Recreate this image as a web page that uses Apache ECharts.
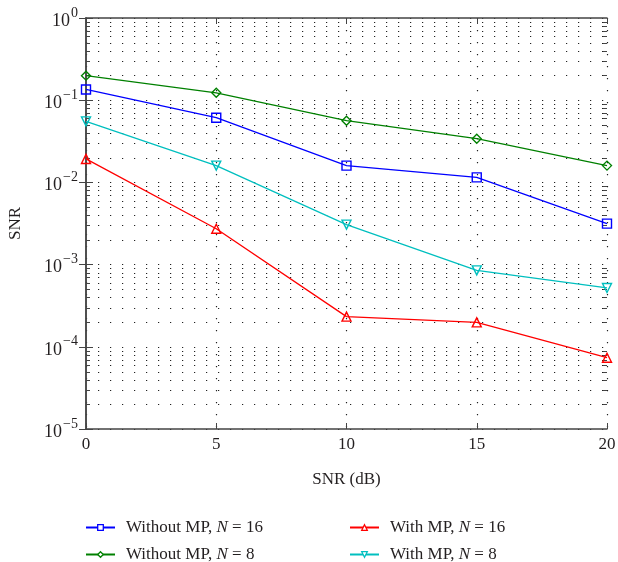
<!DOCTYPE html>
<html><head><meta charset="utf-8">
<script src="https://cdn.jsdelivr.net/npm/echarts@6/dist/echarts.min.js"></script>
<style>html,body{margin:0;padding:0;background:#fff}#c{width:618px;height:562px}</style>
</head><body><div id="c"></div>
<script>
const snr = [0, 5, 10, 15, 20];
const withoutMP16 = [0.135, 0.0612, 0.0160, 0.0115, 0.00315];
const withoutMP8 = [0.199, 0.123, 0.0564, 0.0340, 0.0160];
const withMP16 = [0.0193, 0.00273, 0.000233, 0.000198, 0.0000737];
const withMP8 = [0.0552, 0.0160, 0.00306, 0.00085, 0.00052];
const xTicks = [0, 5, 10, 15, 20];
const yDecades = [1e-5, 1e-4, 1e-3, 1e-2, 1e-1, 1];
const minorMult = [2, 3, 4, 5, 6, 7, 8, 9];
const names = ['Without MP, N = 16', 'Without MP, N = 8', 'With MP, N = 16', 'With MP, N = 8'];

const minorVals = [];
yDecades.slice(0, -1).forEach(d => minorMult.forEach(m => minorVals.push(d * m)));

const FONT = 'Liberation Serif';
const TXT = '#231f20';
const AX = '#444';
const dotted = {type: [1.2, 10.8], color: '#222', width: 1.2};

function pair(a){ return a.map((v,i)=>[snr[i], v]); }
function ser(name, data, color, symbol, rot){
  return {name, type:'line', data: pair(data), symbol, symbolSize: 9, symbolRotate: rot||0,
    showSymbol:true, lineStyle:{color, width:1.3},
    itemStyle:{color:'rgba(255,255,255,0)', borderColor:color, borderWidth:1.4},
    emphasis:{disabled:true}, z:5};
}
const series = [
  ser(names[0], withoutMP16, '#0000ff', 'rect'),
  ser(names[1], withoutMP8, '#008000', 'diamond'),
  ser(names[2], withMP16, '#ff0000', 'triangle'),
  ser(names[3], withMP8, '#00bfbf', 'triangle', 180)
];
const colors = ['#0000ff', '#008000', '#ff0000', '#00bfbf'];

series.push({
  type:'custom', silent:true, z:1,
  data: minorVals.map(v => [0, v]),
  encode:{x:0, y:1},
  renderItem(params, api){
    const cs = params.coordSys;
    const y = Math.round(api.coord([0, api.value(1)])[1]) + 0.5;
    return {type:'group', children:[
      {type:'line', shape:{x1:cs.x, y1:y, x2:cs.x+cs.width, y2:y}, style:{stroke:'#222', lineWidth:1.2, lineDash:[1.2,10.8]}},
      {type:'line', shape:{x1:cs.x, y1:y, x2:cs.x+4, y2:y}, style:{stroke:AX, lineWidth:1}},
      {type:'line', shape:{x1:cs.x+cs.width-4, y1:y, x2:cs.x+cs.width, y2:y}, style:{stroke:AX, lineWidth:1}}
    ]};
  }
});

function legendFmt(name){
  const m = name.match(/^(.*), N = (\d+)$/);
  return '{a0|' + m[1] + ', }{i|N}{a| = ' + m[2] + '}';
}
const legRich = {
  a0:{fontFamily:FONT, fontSize:17, color:TXT, padding:[0,0,0,6]},
  a:{fontFamily:FONT, fontSize:17, color:TXT},
  i:{fontFamily:FONT, fontSize:17, fontStyle:'italic', color:TXT}
};
const legPos = [[80, 514], [80, 541], [344, 514], [344, 541]];
const legends = names.map((n, k) => ({
  data:[n], left:legPos[k][0], top:legPos[k][1], itemWidth:29, itemHeight:7,
  itemStyle:{color:'#fff', borderColor:colors[k], borderWidth:1.3},
  formatter:legendFmt, textStyle:{rich:legRich}
}));

const chart = echarts.init(document.getElementById('c'));
chart.setOption({
  animation:false,
  backgroundColor:'#fff',
  grid:{left:86, right:11, top:18, bottom:133, outerBoundsMode:'none', containLabel:false},
  xAxis:[{
    type:'value', min:0, max:20, interval:5, position:'bottom',
    name:'SNR (dB)', nameLocation:'middle', nameGap:42,
    nameTextStyle:{fontFamily:FONT, fontSize:17, color:TXT},
    axisLine:{lineStyle:{color:AX, width:1.5}},
    axisTick:{inside:true, length:6, lineStyle:{color:AX}},
    axisLabel:{fontFamily:FONT, fontSize:17, color:TXT, margin:7, formatter: v => xTicks.includes(v) ? String(v) : ''},
    splitLine:{show:true, lineStyle:dotted}
  },{
    type:'value', min:0, max:20, interval:5, position:'top',
    axisLine:{lineStyle:{color:AX, width:1.5}},
    axisTick:{inside:true, length:6, lineStyle:{color:AX}},
    axisLabel:{show:false}, splitLine:{show:false}
  }],
  yAxis:[{
    type:'log', logBase:10, min:1e-5, max:1, interval:1, position:'left',
    name:'SNR', nameLocation:'middle', nameGap:62, nameRotate:90,
    nameTextStyle:{fontFamily:FONT, fontSize:17, color:TXT},
    axisLine:{show:true, lineStyle:{color:AX, width:1.5}},
    axisTick:{show:true, inside:true, length:7, lineStyle:{color:AX}},
    axisLabel:{margin:8, formatter: v => {
        const e = Math.round(Math.log10(v));
        return '{b|10}{s|' + (e === 0 ? '0' : '\u2212' + (-e)) + '}';
      },
      rich:{
        b:{fontFamily:FONT, fontSize:18, color:TXT, lineHeight:24, verticalAlign:'bottom'},
        s:{fontFamily:FONT, fontSize:14, color:TXT, lineHeight:24, verticalAlign:'top', padding:[0,0,0,1]}
      }
    },
    splitLine:{show:true, lineStyle:dotted}
  },{
    type:'log', logBase:10, min:1e-5, max:1, interval:1, position:'right',
    axisLine:{show:true, lineStyle:{color:AX, width:1.5}},
    axisTick:{show:true, inside:true, length:7, lineStyle:{color:AX}},
    axisLabel:{show:false}, splitLine:{show:false}
  }],
  legend: legends,
  series
});
</script></body></html>
